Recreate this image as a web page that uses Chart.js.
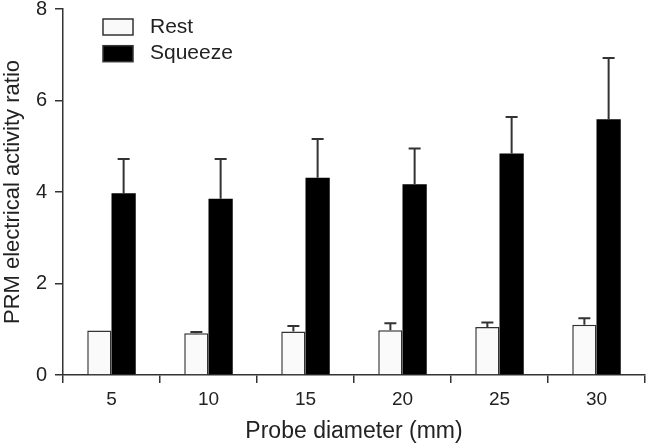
<!DOCTYPE html>
<html>
<head>
<meta charset="utf-8">
<script src="https://cdn.jsdelivr.net/npm/chart.js@4"></script>
<style>
  html, body { margin: 0; padding: 0; background: #fff; }
  #wrap { width: 646px; height: 445px; }
</style>
</head>
<body>
<div id="wrap"><canvas id="chart"></canvas></div>
<script>
const diameters = ['5', '10', '15', '20', '25', '30'];
const restMean = [0.97, 0.91, 0.95, 0.98, 1.05, 1.10];
const restSD = [0.0, 0.03, 0.12, 0.15, 0.10, 0.14];
const squeezeMean = [3.97, 3.85, 4.31, 4.17, 4.84, 5.59];
const squeezeSD = [0.75, 0.87, 0.85, 0.78, 0.80, 1.34];
const yTicks = [0, 2, 4, 6, 8];

const FONT = '"Liberation Sans", Arial, sans-serif';
const ink = '#222';

// error bars drawn above each bar (upper whisker only)
const errorBars = {
    id: 'errorBars',
    afterDatasetsDraw(chart) {
        const ctx = chart.ctx;
        const y = chart.scales.y;
        ctx.save();
        ctx.strokeStyle = '#333';
        ctx.lineWidth = 2;
        chart.data.datasets.forEach((ds, i) => {
            const meta = chart.getDatasetMeta(i);
            meta.data.forEach((bar, j) => {
                const sd = ds.errors[j];
                if (!sd) return;
                const top = y.getPixelForValue(ds.data[j] + sd);
                const base = y.getPixelForValue(ds.data[j]);
                ctx.beginPath();
                ctx.moveTo(bar.x, base);
                ctx.lineTo(bar.x, top);
                ctx.moveTo(bar.x - 6, top);
                ctx.lineTo(bar.x + 6, top);
                ctx.stroke();
            });
        });
        ctx.restore();
    }
};

// legend drawn inside the plot, top left
const insideLegend = {
    id: 'insideLegend',
    afterDraw(chart) {
        const ctx = chart.ctx;
        ctx.save();
        ctx.font = '21px ' + FONT;
        ctx.textBaseline = 'middle';
        chart.data.datasets.forEach((ds, i) => {
            const bx = 103, by = 19 + i * 26.7;
            ctx.fillStyle = ds.backgroundColor;
            ctx.fillRect(bx, by, 30, 16);
            ctx.strokeStyle = '#333';
            ctx.lineWidth = 1.5;
            ctx.strokeRect(bx, by, 30, 16);
            ctx.fillStyle = ink;
            ctx.fillText(ds.label, 150, by + 8);
        });
        ctx.restore();
    }
};

new Chart(document.getElementById('chart'), {
    type: 'bar',
    data: {
        labels: diameters,
        datasets: [
            {
                label: 'Rest',
                data: restMean,
                errors: restSD,
                backgroundColor: '#fafafa',
                borderColor: '#333',
                borderWidth: 1.5,
                categoryPercentage: 0.5,
                barPercentage: 1.0
            },
            {
                label: 'Squeeze',
                data: squeezeMean,
                errors: squeezeSD,
                backgroundColor: '#000',
                borderColor: '#000',
                borderWidth: 0,
                categoryPercentage: 0.5,
                barPercentage: 1.0
            }
        ]
    },
    options: {
        responsive: true,
        maintainAspectRatio: false,
        animation: false,
        layout: { padding: { top: 0, right: 1, left: 0, bottom: 0 } },
        plugins: {
            legend: { display: false },
            tooltip: { enabled: false }
        },
        scales: {
            x: {
                grid: {
                    offset: true,
                    drawOnChartArea: false,
                    drawTicks: true,
                    tickLength: 8,
                    color: '#333',
                    lineWidth: 1.5
                },
                border: { color: '#333', width: 1.5 },
                ticks: { color: ink, font: { family: FONT, size: 19 }, padding: 5 },
                title: {
                    display: true,
                    text: 'Probe diameter (mm)',
                    color: ink,
                    font: { family: FONT, size: 23 },
                    padding: { top: 4, bottom: 0 }
                },
                afterFit(scale) { scale.height = 70; }
            },
            y: {
                min: 0,
                max: 8,
                afterBuildTicks(scale) { scale.ticks = yTicks.map(v => ({ value: v })); },
                grid: {
                    drawOnChartArea: false,
                    drawTicks: true,
                    tickLength: 8,
                    color: '#333',
                    lineWidth: 1.5
                },
                border: { color: '#333', width: 1.5 },
                ticks: { color: ink, font: { family: FONT, size: 20, lineHeight: 0.1 }, padding: 8 },
                title: {
                    display: true,
                    text: 'PRM electrical activity ratio',
                    color: ink,
                    font: { family: FONT, size: 22 },
                    padding: { top: 0, bottom: 4 }
                },
                afterFit(scale) { scale.width = 63; }
            }
        }
    },
    plugins: [errorBars, insideLegend]
});
</script>
</body>
</html>
